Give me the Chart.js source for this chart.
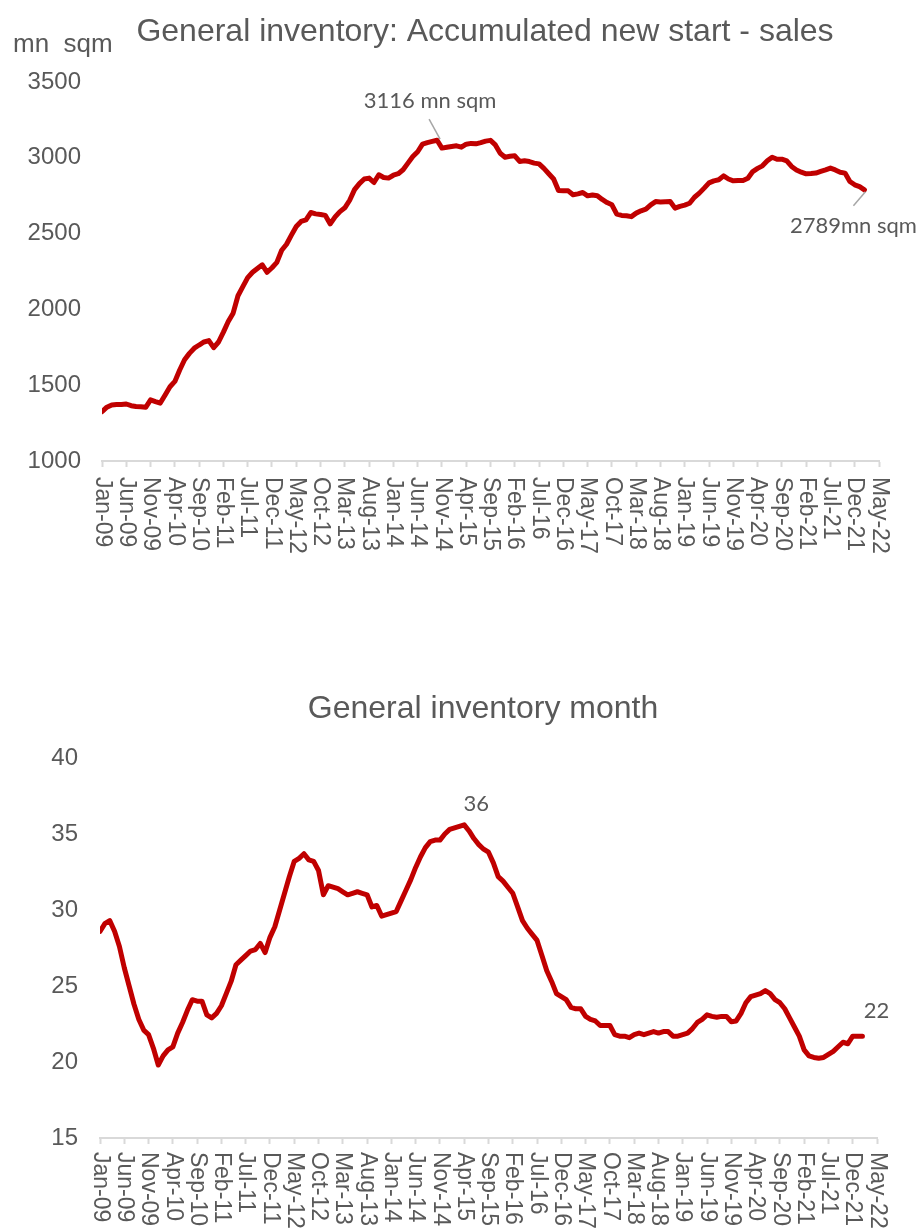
<!DOCTYPE html>
<html lang="en">
<head>
<meta charset="utf-8">
<title>General inventory</title>
<script src="https://cdn.jsdelivr.net/npm/chart.js"></script>
<style>
  html, body { margin: 0; padding: 0; background: #fff; }
  canvas { display: block; }
</style>
</head>
<body>
<canvas id="invChart" width="918" height="600"></canvas>
<canvas id="monthChart" width="918" height="629"></canvas>
<script>
// months shown on the axis: Jan-09 .. May-22
const MONTHS = ['Jan', 'Feb', 'Mar', 'Apr', 'May', 'Jun', 'Jul', 'Aug', 'Sep', 'Oct', 'Nov', 'Dec'];
const FIRST_YEAR = 2009;
const LAST_YEAR = 2022;
const LAST_MONTH = 5;   // May

// general inventory, accumulated new start - sales (mn sqm), Jan-09 .. Feb-22
const INVENTORY = [
  1325, 1355, 1370, 1372, 1372, 1376, 1365, 1360, 1358, 1354, 1403, 1392,
  1382, 1436, 1490, 1525, 1600, 1668, 1710, 1744, 1765, 1785, 1794, 1748,
  1785, 1850, 1920, 1975, 2090, 2150, 2210, 2245, 2270, 2294, 2245, 2275,
  2310, 2390, 2430, 2490, 2547, 2580, 2590, 2639, 2630, 2626, 2620, 2564,
  2610, 2645, 2670, 2720, 2790, 2830, 2860, 2866, 2837, 2888, 2870, 2866,
  2885, 2895, 2921, 2965, 3008, 3040, 3090, 3100, 3108, 3116, 3064, 3070,
  3075, 3079, 3070, 3090, 3095, 3092, 3100, 3110, 3115, 3085, 3030, 3004,
  3010, 3013, 2976, 2980, 2975, 2965, 2960, 2930, 2895, 2860, 2784, 2782,
  2782, 2756, 2762, 2771, 2749, 2755, 2750, 2725, 2705, 2690, 2628, 2620,
  2618, 2612, 2635, 2650, 2661, 2690, 2711, 2708, 2710, 2711, 2668, 2680,
  2688, 2700, 2740, 2767, 2800, 2835, 2848, 2855, 2881, 2860, 2848, 2850,
  2850, 2865, 2909, 2930, 2947, 2980, 3004, 2990, 2991, 2980, 2943, 2920,
  2905, 2894, 2896, 2899, 2910, 2920, 2932, 2920, 2905, 2899, 2844, 2822,
  2810, 2789
];

// general inventory month, Jan-09 .. Feb-22
const INV_MONTHS = [
  28.6, 29.1, 29.3, 28.6, 27.6, 26.2, 25.0, 23.8, 22.8, 22.1, 21.8, 20.9,
  19.8, 20.4, 20.8, 21.0, 21.9, 22.6, 23.4, 24.1, 24.0, 24.0, 23.1, 22.9,
  23.2, 23.7, 24.5, 25.3, 26.4, 26.7, 27.0, 27.3, 27.4, 27.8, 27.2, 28.2,
  28.9, 30.0, 31.1, 32.2, 33.2, 33.4, 33.7, 33.3, 33.2, 32.6, 31.0, 31.6,
  31.5, 31.4, 31.2, 31.0, 31.1, 31.2, 31.1, 31.0, 30.2, 30.3, 29.6, 29.7,
  29.8, 29.9, 30.6, 31.3, 32.0, 32.8, 33.5, 34.1, 34.5, 34.6, 34.6, 35.0,
  35.3, 35.4, 35.5, 35.6, 35.2, 34.7, 34.3, 34.0, 33.8, 33.1, 32.2, 31.9,
  31.5, 31.1, 30.2, 29.3, 28.8, 28.4, 28.0, 27.0, 26.0, 25.3, 24.5, 24.3,
  24.1, 23.6, 23.5, 23.5, 23.0, 22.8, 22.7, 22.4, 22.4, 22.4, 21.8, 21.7,
  21.7, 21.6, 21.8, 21.9, 21.8, 21.9, 22.0, 21.9, 22.0, 22.0, 21.7, 21.7,
  21.8, 21.9, 22.2, 22.6, 22.8, 23.1, 23.0, 22.95, 23.0, 23.0, 22.65, 22.7,
  23.2, 23.9, 24.3, 24.4, 24.5, 24.7, 24.5, 24.1, 23.9, 23.5, 22.9, 22.3,
  21.7, 20.8, 20.4, 20.3, 20.25, 20.3, 20.5, 20.7, 21.0, 21.3, 21.2, 21.7,
  21.7, 21.7
];

// y axis ticks
const INV_TICKS = [1000, 1500, 2000, 2500, 3000, 3500];
const MONTH_TICKS = [15, 20, 25, 30, 35, 40];

// build "Jan-09" style labels
const LABELS = [];
for (let y = FIRST_YEAR; y <= LAST_YEAR; y++) {
  for (let m = 0; m < 12; m++) {
    if (y === LAST_YEAR && m >= LAST_MONTH) break;
    LABELS.push(MONTHS[m] + '-' + String(y).slice(2));
  }
}

const GREY = '#595959';
const AXIS_GREY = '#d9d9d9';
const RED = '#c00000';
const SANS = '"Liberation Sans", Arial, sans-serif';

// titles, unit label, rotated month labels and data notes
const extras = {
  id: 'extras',
  afterDraw(chart, args, o) {
    const { ctx, scales: { x } } = chart;
    const ds = chart.getDatasetMeta(0).data;
    ctx.save();
    ctx.fillStyle = GREY;

    ctx.font = '32px ' + SANS;
    ctx.textAlign = 'center';
    ctx.textBaseline = 'alphabetic';
    ctx.fillText(o.title, o.titleX, o.titleY);

    if (o.unit) {
      ctx.font = '26px ' + SANS;
      ctx.textAlign = 'left';
      ctx.fillText(o.unit, 13, 52);
    }

    // month labels turned clockwise, every 5th month
    ctx.font = '23px ' + SANS;
    ctx.textAlign = 'left';
    ctx.textBaseline = 'middle';
    for (let i = 0; i < LABELS.length; i += 5) {
      ctx.save();
      ctx.translate(x.getPixelForValue(i), x.top + o.labelGap);
      ctx.rotate(Math.PI / 2);
      ctx.fillText(LABELS[i], 0, 0);
      ctx.restore();
    }

    ctx.font = '22px Lato, "Open Sans", sans-serif';
    ctx.textAlign = 'center';
    o.notes.forEach(n => {
      const pt = ds[n.index];
      if (n.line) {
        ctx.strokeStyle = '#a6a6a6';
        ctx.lineWidth = 1.5;
        ctx.beginPath();
        ctx.moveTo(pt.x + n.line[0], pt.y + n.line[1]);
        ctx.lineTo(pt.x + n.line[2], pt.y + n.line[3]);
        ctx.stroke();
      }
      ctx.fillText(n.text, pt.x + n.dx, pt.y + n.dy);
    });
    ctx.restore();
  }
};

function makeChart(id, values, ticks, cfg) {
  return new Chart(document.getElementById(id), {
    type: 'line',
    data: {
      datasets: [{
        data: values.map((v, i) => ({ x: i, y: v })),
        borderColor: RED,
        borderWidth: 5,
        pointRadius: 0,
        tension: 0,
        borderJoinStyle: 'round',
        borderCapStyle: 'round'
      }]
    },
    options: {
      responsive: false,
      animation: false,
      events: [],
      layout: { padding: cfg.padding },
      plugins: {
        legend: { display: false },
        tooltip: { enabled: false },
        extras: cfg.extras
      },
      scales: {
        x: {
          type: 'linear',
          min: 0,
          max: LABELS.length - 1,
          afterFit: s => { s.height = cfg.xHeight; },
          ticks: { display: false, stepSize: 5, maxTicksLimit: 50, autoSkip: false },
          grid: {
            drawOnChartArea: false,
            drawTicks: true,
            tickLength: 6,
            tickColor: AXIS_GREY,
            tickWidth: 2
          },
          border: { color: AXIS_GREY, width: 2 }
        },
        y: {
          min: ticks[0],
          max: ticks[ticks.length - 1],
          afterFit: s => { s.width = 74; },
          afterBuildTicks: s => { s.ticks = ticks.map(v => ({ value: v })); },
          ticks: {
            color: GREY,
            padding: cfg.yPad,
            font: { family: SANS, size: 24 },
            callback: v => String(v)
          },
          grid: { display: false, drawTicks: false },
          border: { display: false }
        }
      }
    },
    plugins: [extras]
  });
}

makeChart('invChart', INVENTORY, INV_TICKS, {
  padding: { top: 82, left: 28, right: 39, bottom: 0 },
  xHeight: 139,
  yPad: 21,
  extras: {
    title: 'General inventory: Accumulated new start - sales',
    titleX: 485,
    titleY: 41,
    unit: 'mn  sqm',
    labelGap: 16,
    notes: [
      { index: 69, text: '3116 mn sqm', dx: -7, dy: -39, line: [-8, -21, 3, -1] },
      { index: 157, text: '2789mn sqm', dx: -11, dy: 36, line: [1, 2, -11, 16] }
    ]
  }
});

makeChart('monthChart', INV_MONTHS, MONTH_TICKS, {
  padding: { top: 158, left: 26, right: 41, bottom: 0 },
  xHeight: 91,
  yPad: 22,
  extras: {
    title: 'General inventory month',
    titleX: 483,
    titleY: 118,
    unit: null,
    labelGap: 14,
    notes: [
      { index: 75, text: '36', dx: 12, dy: -21 },
      { index: 157, text: '22', dx: 14, dy: -25 }
    ]
  }
});
</script>
</body>
</html>
